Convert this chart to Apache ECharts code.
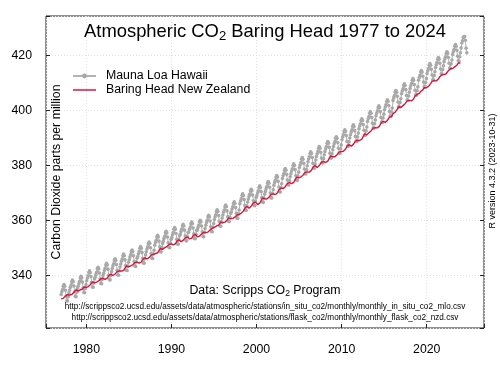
<!DOCTYPE html>
<html><head><meta charset="utf-8">
<script src="https://cdn.jsdelivr.net/npm/echarts@6/dist/echarts.min.js"></script>
<style>html,body{margin:0;padding:0;background:#fff}#c{width:500px;height:375px}</style>
</head><body><div id="c"></div>
<script>
// Monthly values, January of startYear onward
const startYear = 1977;
const maunaLoa = [
333.1,334.1,334.9,336.1,336.7,336.1,334.6,332.5,330.8,330.7,332.3,333.7,
334.7,335.7,336.5,337.7,338.3,337.7,336.2,334.1,332.4,332.3,333.9,335.3,
336.1,337.1,337.9,339.1,339.7,339.1,337.6,335.5,333.8,333.7,335.3,336.7,
338.1,339.1,339.9,341.1,341.7,341.1,339.6,337.5,335.8,335.7,337.3,338.7,
339.4,340.4,341.2,342.4,343.0,342.4,340.9,338.8,337.1,337.0,338.6,340.0,
340.8,341.8,342.6,343.8,344.4,343.8,342.3,340.2,338.5,338.4,340.0,341.4,
342.5,343.5,344.3,345.5,346.1,345.5,344.0,341.9,340.2,340.1,341.7,343.1,
344.2,345.2,346.0,347.2,347.8,347.2,345.7,343.6,341.9,341.8,343.4,344.8,
345.7,346.7,347.5,348.7,349.3,348.7,347.2,345.1,343.4,343.3,344.9,346.3,
346.9,347.9,348.7,349.9,350.5,349.9,348.4,346.3,344.6,344.5,346.1,347.5,
348.6,349.6,350.4,351.6,352.2,351.6,350.1,348.0,346.3,346.2,347.8,349.2,
351.0,352.0,352.8,354.0,354.6,354.0,352.5,350.4,348.7,348.6,350.2,351.6,
352.5,353.5,354.3,355.5,356.1,355.5,354.0,351.9,350.2,350.1,351.7,353.1,
353.8,354.8,355.6,356.8,357.4,356.8,355.3,353.2,351.5,351.4,353.0,354.4,
355.0,356.0,356.8,358.0,358.6,358.0,356.5,354.4,352.7,352.6,354.2,355.6,
355.8,356.8,357.6,358.8,359.4,358.8,357.3,355.2,353.5,353.4,355.0,356.4,
356.5,357.5,358.3,359.5,360.1,359.5,358.0,355.9,354.2,354.1,355.7,357.1,
358.3,359.3,360.1,361.3,361.9,361.3,359.8,357.7,356.0,355.9,357.5,358.9,
360.3,361.3,362.1,363.3,363.9,363.3,361.8,359.7,358.0,357.9,359.5,360.9,
362.0,363.0,363.8,365.0,365.6,365.0,363.5,361.4,359.7,359.6,361.2,362.6,
363.2,364.2,365.0,366.2,366.8,366.2,364.7,362.6,360.9,360.8,362.4,363.8,
366.1,367.1,367.9,369.1,369.7,369.1,367.6,365.5,363.8,363.7,365.3,366.7,
367.8,368.8,369.6,370.8,371.4,370.8,369.3,367.2,365.5,365.4,367.0,368.4,
369.0,370.0,370.8,372.0,372.6,372.0,370.5,368.4,366.7,366.6,368.2,369.6,
370.6,371.6,372.4,373.6,374.2,373.6,372.1,370.0,368.3,368.2,369.8,371.2,
372.8,373.8,374.6,375.8,376.4,375.8,374.3,372.2,370.5,370.4,372.0,373.4,
375.3,376.3,377.1,378.3,378.9,378.3,376.8,374.7,373.0,372.9,374.5,375.9,
377.0,378.0,378.8,380.0,380.6,380.0,378.5,376.4,374.7,374.6,376.2,377.6,
379.3,380.3,381.1,382.3,382.9,382.3,380.8,378.7,377.0,376.9,378.5,379.9,
381.4,382.4,383.2,384.4,385.0,384.4,382.9,380.8,379.1,379.0,380.6,382.0,
383.3,384.3,385.1,386.3,386.9,386.3,384.8,382.7,381.0,380.9,382.5,383.9,
385.1,386.1,386.9,388.1,388.7,388.1,386.6,384.5,382.8,382.7,384.3,385.7,
386.9,387.9,388.7,389.9,390.5,389.9,388.4,386.3,384.6,384.5,386.1,387.5,
389.4,390.4,391.2,392.4,393.0,392.4,390.9,388.8,387.1,387.0,388.6,390.0,
391.2,392.2,393.0,394.2,394.8,394.2,392.7,390.6,388.9,388.8,390.4,391.8,
393.4,394.4,395.2,396.4,397.0,396.4,394.9,392.8,391.1,391.0,392.6,394.0,
396.0,397.0,397.8,399.0,399.6,399.0,397.5,395.4,393.7,393.6,395.2,396.6,
398.1,399.1,399.9,401.1,401.7,401.1,399.6,397.5,395.8,395.7,397.3,398.7,
400.3,401.3,402.1,403.3,403.9,403.3,401.8,399.7,398.0,397.9,399.5,400.9,
403.7,404.7,405.5,406.7,407.3,406.7,405.2,403.1,401.4,401.3,402.9,404.3,
406.1,407.1,407.9,409.1,409.7,409.1,407.6,405.5,403.8,403.7,405.3,406.7,
408.0,409.0,409.8,411.0,411.6,411.0,409.5,407.4,405.7,405.6,407.2,408.6,
411.0,412.0,412.8,414.0,414.6,414.0,412.5,410.4,408.7,408.6,410.2,411.6,
413.5,414.5,415.3,416.5,417.1,416.5,415.0,412.9,411.2,411.1,412.7,414.1,
415.7,416.7,417.5,418.7,419.3,418.7,417.2,415.1,413.4,413.3,414.9,416.3,
417.8,418.8,419.6,420.8,421.4,420.8,419.3,417.2,415.5,415.4,417.0,418.4,
420.4,421.4,422.2,423.4,424.0,423.4,421.9,419.8,418.1,418.0,419.6,421.0,
422.8,424.6,425.4,426.6,426.9,426.9,425.6,422.7,421.0
];
const baringHead = [
331.5,331.4,331.8,331.7,331.9,332.2,332.5,332.6,333.0,333.1,333.1,332.9,
332.9,333.1,332.9,333.1,333.3,333.3,333.9,334.2,334.4,334.8,334.5,334.3,
334.3,334.2,334.3,334.8,334.7,335.0,335.0,335.6,335.8,335.9,336.2,335.7,
336.1,335.8,335.9,336.1,336.0,336.6,336.9,337.2,337.7,337.5,337.5,337.3,
337.3,337.2,337.6,337.5,337.7,338.0,338.3,338.3,338.8,338.9,338.9,339.0,
338.6,338.8,338.6,338.8,339.0,339.0,339.6,339.9,340.1,340.2,340.5,340.0,
340.1,340.0,340.1,340.6,340.5,340.8,340.8,341.4,341.6,342.0,341.7,341.5,
341.9,341.6,341.7,341.9,341.8,342.4,342.7,343.0,343.5,343.3,343.3,343.1,
343.2,343.1,343.5,343.4,343.6,343.9,344.2,344.2,344.7,344.8,344.8,344.9,
344.5,344.7,344.5,344.7,344.9,344.9,345.5,345.8,346.0,346.1,346.4,345.9,
346.1,346.0,346.1,346.6,346.5,346.8,346.8,347.4,347.6,348.0,347.7,347.5,
347.9,348.0,348.1,348.3,348.2,348.8,349.1,349.4,349.9,349.7,349.7,349.5,
349.8,349.7,350.1,350.0,350.2,350.5,350.8,350.8,351.3,351.4,351.4,351.5,
351.1,351.3,351.1,351.3,351.5,351.5,352.1,352.4,352.6,352.7,353.0,352.5,
352.4,352.3,352.4,352.9,352.8,353.1,353.1,353.7,353.9,354.3,354.0,353.8,
353.6,353.3,353.4,353.6,353.5,354.1,354.4,354.7,355.1,355.0,355.0,354.8,
354.1,354.0,354.4,354.3,354.5,354.8,355.1,355.2,355.6,355.7,355.7,355.5,
355.6,355.8,355.6,355.8,356.0,356.0,356.6,356.9,357.1,357.2,357.5,357.0,
357.5,357.4,357.5,358.0,357.9,358.2,358.3,358.8,359.0,359.4,359.1,358.9,
359.2,359.1,359.2,359.4,359.4,359.9,360.2,360.5,361.0,360.8,360.8,360.6,
360.5,360.4,360.8,360.7,360.9,361.2,361.5,361.6,362.0,362.1,362.1,362.2,
362.7,362.9,362.7,363.0,363.3,363.4,364.1,364.5,364.7,364.8,365.1,364.7,
364.6,364.5,364.6,365.2,365.2,365.6,365.8,366.4,366.6,367.0,366.7,366.6,
366.1,365.8,365.9,366.2,366.3,366.9,367.3,367.7,368.2,368.0,368.0,367.9,
367.5,367.4,367.8,367.8,368.1,368.5,368.9,369.0,369.5,369.6,369.6,369.7,
369.4,369.6,369.4,369.7,370.0,370.1,370.8,371.2,371.4,371.5,371.8,371.4,
371.7,371.6,371.7,372.3,372.3,372.7,372.9,373.5,373.7,374.1,373.8,373.7,
373.7,373.4,373.5,373.8,373.9,374.5,374.9,375.3,375.8,375.6,375.6,375.5,
375.5,375.4,375.8,375.8,376.1,376.5,376.9,377.0,377.5,377.6,377.6,377.7,
377.6,377.8,377.6,377.9,378.2,378.3,379.0,379.4,379.6,379.7,380.0,379.6,
379.4,379.3,379.4,380.0,380.0,380.4,380.6,381.2,381.4,381.8,381.5,381.4,
381.4,381.1,381.2,381.5,381.6,382.2,382.6,383.0,383.5,383.3,383.3,383.2,
382.9,382.8,383.2,383.2,383.5,383.9,384.3,384.4,384.9,385.0,385.0,385.1,
385.2,385.4,385.2,385.5,385.8,385.9,386.6,387.0,387.2,387.3,387.6,387.2,
387.1,387.0,387.1,387.7,387.7,388.1,388.3,388.9,389.1,389.5,389.2,389.1,
389.4,389.1,389.2,389.5,389.6,390.2,390.6,391.0,391.5,391.3,391.3,391.2,
391.6,391.5,391.9,391.9,392.2,392.6,393.0,393.1,393.6,393.7,393.7,393.8,
393.7,393.9,393.7,394.0,394.3,394.4,395.1,395.5,395.7,395.8,396.1,395.7,
395.8,395.7,395.8,396.4,396.4,396.8,397.0,397.6,397.8,398.2,397.9,397.8,
398.9,399.0,399.1,399.4,399.5,400.1,400.5,400.9,401.4,401.2,401.2,401.1,
401.5,401.4,401.8,401.8,402.1,402.5,402.9,403.0,403.5,403.6,403.6,403.7,
403.5,403.7,403.5,403.8,404.1,404.2,404.9,405.3,405.5,405.6,405.9,405.5,
406.3,406.2,406.3,407.0,406.9,407.3,407.5,408.1,408.3,408.7,408.4,408.3,
409.0,408.7,408.8,409.1,409.2,409.8,410.2,410.6,411.0,410.9,410.9,410.8,
410.9,410.8,411.2,411.2,411.5,411.9,412.3,412.5,412.9,413.0,413.0,413.1,
413.1,413.3,413.1,413.4,413.7,413.8,414.5,414.9,415.1,415.2,415.5,415.1,
415.3,415.2,415.3,415.9,415.9,416.3,416.5,417.1,417.3,417.4,417.4,417.3
];
const xTickLabels = [1980, 1990, 2000, 2010, 2020];
const yTickLabels = [340, 360, 380, 400, 420];
const seriesNames = ['Mauna Loa Hawaii', 'Baring Head New Zealand'];

function monthly(vals) { return vals.map((v, i) => [startYear + (i + 0.5) / 12, v]); }

const FONT = '"Liberation Sans", Arial, Helvetica, sans-serif';
const chart = echarts.init(document.getElementById('c'), null, {renderer: 'canvas'});
const xr = [1975.26, 2026.73], yr = [320.9, 434.4];
const grid = {left: 46, top: 16, width: 438, height: 312, show: true, borderColor: '#222', borderWidth: 1, backgroundColor: 'transparent'};
const gridLine = {show: true, lineStyle: {color: '#e2e2e2', width: 1, type: [1, 2]}};
chart.setOption({
  animation: false,
  textStyle: {fontFamily: FONT},
  grid: grid,
  xAxis: [{
    type: 'value', min: xr[0], max: xr[1], splitNumber: 5,
    axisLine: {show: false},
    axisTick: {show: true, inside: true, length: 4, lineStyle: {color: '#222'}},
    axisLabel: {margin: 16, fontSize: 12.3, color: '#000', fontFamily: FONT,
      formatter: v => xTickLabels.indexOf(Math.round(v * 1000) / 1000) >= 0 ? String(v) : ''},
    splitLine: gridLine
  }],
  yAxis: [{
    type: 'value', min: yr[0], max: yr[1], splitNumber: 6,
    axisLine: {show: false},
    axisTick: {show: true, inside: true, length: 4, lineStyle: {color: '#222'}},
    axisLabel: {margin: 14, fontSize: 12.3, color: '#000', fontFamily: FONT,
      formatter: v => yTickLabels.indexOf(Math.round(v * 1000) / 1000) >= 0 ? String(v) : ''},
    splitLine: gridLine
  }, {
    type: 'value', position: 'right', min: yr[0], max: yr[1], splitNumber: 6,
    axisLine: {show: false},
    axisTick: {show: true, inside: true, length: 4, lineStyle: {color: '#222'}},
    axisLabel: {show: false}, splitLine: {show: false}
  }],
  legend: {
    orient: 'vertical', left: 72, top: 69, padding: 0, itemWidth: 23, itemHeight: 6, itemGap: 0,
    data: [{name: seriesNames[0]}, {name: seriesNames[1], icon: 'path://M0,0H46V3H0Z'}],
    textStyle: {fontSize: 12.3, color: '#000', lineHeight: 14, fontFamily: FONT, padding: [0, 0, 0, 5]}
  },
  series: [{
    type: 'line', name: seriesNames[0], data: monthly(maunaLoa),
    symbol: 'circle', symbolSize: 3.6, showSymbol: true,
    itemStyle: {color: '#a9a9a9'}, lineStyle: {color: '#b3b3b3', width: 1}, z: 2
  }, {
    type: 'line', name: seriesNames[1], data: monthly(baringHead),
    symbol: 'none', itemStyle: {color: '#dc143c'}, lineStyle: {color: '#dc143c', width: 1.4}, z: 3
  }],
  graphic: [
    {type: 'text', x: 265, y: 32, z: 10, style: {text: 'Atmospheric CO{s|2} Baring Head 1977 to 2024', fontSize: 18.4, fontFamily: FONT, fill: '#000', align: 'center', verticalAlign: 'middle', lineHeight: 22,
      rich: {s: {fontSize: 13, fontFamily: FONT, lineHeight: 11, verticalAlign: 'bottom', fill: '#000'}}}},
    {type: 'text', x: 57, y: 172, rotation: Math.PI / 2, z: 10, style: {text: 'Carbon Dioxide parts per million', fontSize: 12.3, fontFamily: FONT, fill: '#000', align: 'center', verticalAlign: 'middle'}},
    {type: 'text', x: 493, y: 171, rotation: Math.PI / 2, z: 10, style: {text: 'R version 4.3.2 (2023-10-31)', fontSize: 9, fontFamily: FONT, fill: '#000', align: 'center', verticalAlign: 'middle'}},
    {type: 'text', x: 265, y: 291, z: 10, style: {text: 'Data: Scripps CO{s|2} Program', fontSize: 12.3, fontFamily: FONT, fill: '#000', align: 'center', verticalAlign: 'middle', lineHeight: 15,
      rich: {s: {fontSize: 8.6, fontFamily: FONT, lineHeight: 8, verticalAlign: 'bottom', fill: '#000'}}}},
    {type: 'text', x: 265, y: 306.7, z: 10, style: {text: 'http://scrippsco2.ucsd.edu/assets/data/atmospheric/stations/in_situ_co2/monthly/monthly_in_situ_co2_mlo.csv', fontSize: 8.2, fontFamily: FONT, fill: '#000', align: 'center', verticalAlign: 'middle'}},
    {type: 'text', x: 265, y: 317.3, z: 10, style: {text: 'http://scrippsco2.ucsd.edu/assets/data/atmospheric/stations/flask_co2/monthly/monthly_flask_co2_nzd.csv', fontSize: 8.2, fontFamily: FONT, fill: '#000', align: 'center', verticalAlign: 'middle'}}
  ]
});
</script></body></html>
